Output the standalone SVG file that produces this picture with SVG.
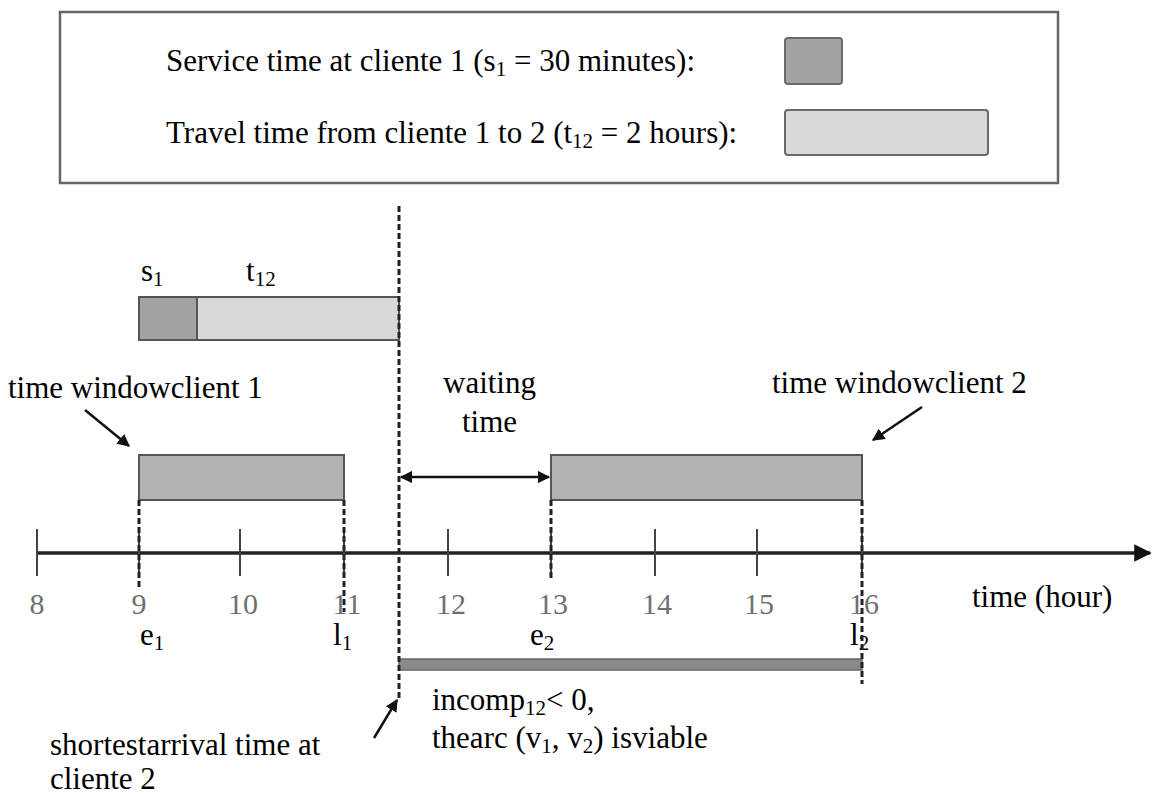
<svg xmlns="http://www.w3.org/2000/svg" width="1152" height="796" viewBox="0 0 1152 796">
<defs>
<style>
.t{font-family:"Liberation Serif","Times New Roman",serif;font-size:31px;fill:#000}
.sub{font-size:21px}
.num{font-family:"Liberation Serif","Times New Roman",serif;font-size:30px;fill:#6f6f6f;text-anchor:middle}
.dash{stroke:#222;stroke-width:3;stroke-dasharray:6,3;fill:none}
.tick{stroke:#444;stroke-width:2}
.win{fill:#b3b3b3;stroke:#555;stroke-width:2}
.arr{stroke:#111;stroke-width:2.5;fill:none}
</style>
<marker id="ah" viewBox="0 0 10 10" refX="9" refY="5" markerWidth="5" markerHeight="5" orient="auto-start-reverse">
<path d="M0,0 L10,5 L0,10 z" fill="#111"/>
</marker>
<marker id="axh" viewBox="0 0 10 10" refX="9" refY="5" markerWidth="5" markerHeight="5" orient="auto">
<path d="M0,0 L10,5 L0,10 z" fill="#111"/>
</marker>
</defs>
<rect width="1152" height="796" fill="#fff"/>

<g id="legend">
<rect x="60" y="12" width="998" height="171" fill="#fff" stroke="#666" stroke-width="2.5"/>
<text class="t" x="166" y="71">Service time at cliente 1 (s<tspan class="sub" dy="5">1</tspan><tspan dy="-5"> = 30 minutes):</tspan></text>
<rect x="785" y="38" width="57" height="46" rx="3" fill="#a3a3a3" stroke="#6a6a6a" stroke-width="2"/>
<text class="t" x="166" y="143">Travel time from cliente 1 to 2 (t<tspan class="sub" dy="5">12</tspan><tspan dy="-5"> = 2 hours):</tspan></text>
<rect x="785" y="110" width="203" height="45" rx="3" fill="#d9d9d9" stroke="#6a6a6a" stroke-width="2"/>
</g>

<g id="service-travel-bar">
<rect x="139" y="297" width="260" height="43" fill="#d9d9d9" stroke="#555" stroke-width="2"/>
<rect x="139" y="297" width="58" height="43" fill="#a3a3a3" stroke="#555" stroke-width="2"/>
<text class="t" x="141" y="281">s<tspan class="sub" dy="5">1</tspan></text>
<text class="t" x="246" y="281">t<tspan class="sub" dy="5">12</tspan></text>
</g>

<g id="window1">
<rect class="win" x="139" y="455" width="205" height="45"/>
<text class="t" x="8" y="398">time windowclient 1</text>
</g>

<g id="window2">
<rect class="win" x="551" y="455" width="311" height="45"/>
<text class="t" x="772" y="393">time windowclient 2</text>
</g>

<g id="waiting">
<text class="t" x="443" y="393">waiting</text>
<text class="t" x="462" y="432">time</text>
</g>

<g id="axis">
<line x1="37" y1="553" x2="1150" y2="553" stroke="#222" stroke-width="3.5" marker-end="url(#axh)"/>
<line class="tick" x1="37" y1="529" x2="37" y2="576"/>
<line class="tick" x1="139" y1="529" x2="139" y2="576"/>
<line class="tick" x1="240" y1="529" x2="240" y2="576"/>
<line class="tick" x1="344" y1="529" x2="344" y2="576"/>
<line class="tick" x1="448" y1="529" x2="448" y2="576"/>
<line class="tick" x1="551" y1="529" x2="551" y2="576"/>
<line class="tick" x1="655" y1="529" x2="655" y2="576"/>
<line class="tick" x1="757" y1="529" x2="757" y2="576"/>
<line class="tick" x1="862" y1="529" x2="862" y2="576"/>
<text class="num" x="37" y="614">8</text>
<text class="num" x="139" y="614">9</text>
<text class="num" x="243" y="614">10</text>
<text class="num" x="347" y="614">11</text>
<text class="num" x="451" y="614">12</text>
<text class="num" x="553" y="614">13</text>
<text class="num" x="657" y="614">14</text>
<text class="num" x="759" y="614">15</text>
<text class="num" x="864" y="614">16</text>
<text class="t" x="972" y="607">time (hour)</text>
<text class="t" x="140" y="645">e<tspan class="sub" dy="5">1</tspan></text>
<text class="t" x="333" y="645">l<tspan class="sub" dy="5">1</tspan></text>
<text class="t" x="530" y="645">e<tspan class="sub" dy="5">2</tspan></text>
<text class="t" x="850" y="645">l<tspan class="sub" dy="5">2</tspan></text>
</g>

<g id="feasibility">
<rect x="399" y="659" width="463" height="11" fill="#8a8a8a" stroke="#666" stroke-width="1.5"/>
<text class="t" x="432" y="710">incomp<tspan class="sub" dy="5">12</tspan><tspan dy="-5">&lt; 0,</tspan></text>
<text class="t" x="432" y="748">thearc (v<tspan class="sub" dy="5">1</tspan><tspan dy="-5">, v</tspan><tspan class="sub" dy="5">2</tspan><tspan dy="-5">) isviable</tspan></text>
<text class="t" x="50" y="755">shortestarrival time at</text>
<text class="t" x="50" y="789">cliente 2</text>
</g>

<g id="connectors">
<line class="dash" x1="399" y1="206" x2="399" y2="698"/>
<line class="dash" x1="139" y1="500" x2="139" y2="588"/>
<line class="dash" x1="344" y1="500" x2="344" y2="612"/>
<line class="dash" x1="551" y1="500" x2="551" y2="578"/>
<line class="dash" x1="862" y1="500" x2="862" y2="684"/>
<line class="arr" x1="401" y1="477" x2="549" y2="477" marker-start="url(#ah)" marker-end="url(#ah)"/>
<line class="arr" x1="85" y1="410" x2="129" y2="446" marker-end="url(#ah)"/>
<line class="arr" x1="922" y1="407" x2="873" y2="440" marker-end="url(#ah)"/>
<line class="arr" x1="374" y1="738" x2="397" y2="700" marker-end="url(#ah)"/>
</g>
</svg>
